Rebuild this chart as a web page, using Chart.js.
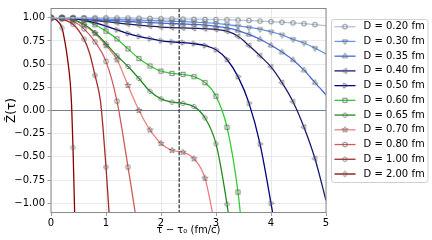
<!DOCTYPE html>
<html>
<head>
<meta charset="utf-8">
<script src="https://cdn.jsdelivr.net/npm/chart.js@4/dist/chart.umd.min.js"></script>
<style>
html,body{margin:0;padding:0;background:#fff;}
canvas{display:block;}
</style>
</head>
<body>
<canvas id="c" width="432" height="240"></canvas>
<script>
// ---- data ----
const tauGrid = [0,0.2,0.4,0.6,0.8,1.0,1.2,1.4,1.6,1.8,2.0,2.2,2.4,2.6,2.8,3.0,3.2,3.4,3.6,3.8,4.0,4.2,4.4,4.6,4.8,5.0];
const zD020 = [1.0,1.0,1.0,1.0,0.999,0.999,0.998,0.997,0.995,0.993,0.99,0.988,0.986,0.984,0.982,0.98,0.978,0.975,0.97,0.964,0.958,0.952,0.945,0.936,0.926,0.915];
const zD030 = [1.0,1.0,0.998,0.995,0.99,0.986,0.982,0.978,0.974,0.97,0.966,0.962,0.958,0.953,0.947,0.94,0.925,0.912,0.895,0.877,0.848,0.815,0.768,0.728,0.672,0.61];
const zD035 = [1.0,1.0,0.997,0.99,0.982,0.974,0.966,0.96,0.954,0.948,0.943,0.938,0.933,0.928,0.92,0.908,0.89,0.862,0.82,0.768,0.703,0.63,0.545,0.435,0.30,0.17];
const zD040 = [1.0,0.999,0.995,0.985,0.972,0.958,0.945,0.932,0.92,0.91,0.90,0.894,0.89,0.886,0.882,0.875,0.855,0.80,0.70,0.59,0.47,0.30,0.095,-0.18,-0.52,-0.97];
const tauD050 = [0,0.2,0.4,0.6,0.8,1.0,1.2,1.4,1.6,1.8,2.0,2.2,2.4,2.6,2.8,3.0,3.2,3.4,3.6,3.8,4.0,4.1];
const zD050 = [1.0,0.998,0.99,0.972,0.945,0.91,0.87,0.83,0.80,0.775,0.752,0.74,0.732,0.72,0.70,0.655,0.55,0.365,0.08,-0.36,-1.0,-1.35];
const tauD060 = [0,0.2,0.4,0.6,0.8,1.0,1.2,1.4,1.6,1.8,2.0,2.2,2.4,2.6,2.8,3.0,3.2,3.4,3.5];
const zD060 = [1.0,0.999,0.993,0.972,0.925,0.856,0.772,0.665,0.56,0.48,0.424,0.40,0.39,0.365,0.30,0.155,-0.18,-0.88,-1.45];
const tauD065 = [0,0.2,0.4,0.6,0.8,1.0,1.2,1.4,1.6,1.8,2.0,2.2,2.4,2.6,2.8,3.0,3.2,3.3];
const zD065 = [1.0,0.998,0.98,0.93,0.84,0.72,0.59,0.475,0.345,0.207,0.126,0.09,0.077,0.042,-0.08,-0.36,-1.01,-1.45];
const tauD070 = [0,0.2,0.4,0.6,0.8,1.0,1.2,1.4,1.6,1.8,2.0,2.2,2.4,2.6,2.8,3.0];
const zD070 = [1.0,0.998,0.98,0.92,0.83,0.70,0.547,0.27,0.0,-0.21,-0.355,-0.43,-0.45,-0.52,-0.73,-1.3];
const tauD080 = [0,0.2,0.4,0.6,0.8,1.0,1.2,1.4,1.53,1.6];
const zD080 = [1.0,0.995,0.965,0.88,0.74,0.53,0.10,-0.61,-1.1,-1.4];
const tauD100 = [0,0.2,0.4,0.6,0.7,0.8,0.9,0.95,1.0,1.05,1.1];
const zD100 = [1.0,0.985,0.93,0.77,0.62,0.38,0.10,-0.22,-0.61,-1.05,-1.55];
const tauD200 = [0,0.1,0.2,0.25,0.3,0.35,0.375,0.4,0.43,0.45];
const zD200 = [1.0,0.975,0.89,0.75,0.56,0.30,0.05,-0.40,-1.1,-1.6];

const seriesLabels = ['D = 0.20 fm','D = 0.30 fm','D = 0.35 fm','D = 0.40 fm','D = 0.50 fm','D = 0.60 fm','D = 0.65 fm','D = 0.70 fm','D = 0.80 fm','D = 1.00 fm','D = 2.00 fm'];
const xTicks = [0,1,2,3,4,5];
const yTicks = [-1.0,-0.75,-0.5,-0.25,0,0.25,0.5,0.75,1.0];
const refTau = 2.33;   // dashed vertical reference
const refZ = 0;        // horizontal reference

// ---- styles ----
const seriesX = [tauGrid,tauGrid,tauGrid,tauGrid,tauD050,tauD060,tauD065,tauD070,tauD080,tauD100,tauD200];
const seriesY = [zD020,zD030,zD035,zD040,zD050,zD060,zD065,zD070,zD080,zD100,zD200];
const colors = ['#B0C4DE','#6495ED','#4169E1','#191970','#000080','#32CD32','#228B22','#F08080','#CD5C5C','#A52A2A','#8B0000'];
const markerKinds = ['circle','tdown','tup','tleft','tright','square','octagon','star','circle','hexagon','diamond'];
const FONT = 'DejaVu Sans';

function makeMarker(kind){
  const s = 11, c = s/2;
  const cv = document.createElement('canvas');
  cv.width = s; cv.height = s;
  const g = cv.getContext('2d');
  g.strokeStyle = '#606060'; g.lineWidth = 0.8; g.lineJoin = 'miter';
  g.beginPath();
  const poly = (n, r, rot) => {
    for (let i=0;i<n;i++){
      const a = rot + i*2*Math.PI/n;
      const px = c + r*Math.cos(a), py = c + r*Math.sin(a);
      if (i===0) g.moveTo(px,py); else g.lineTo(px,py);
    }
    g.closePath();
  };
  switch(kind){
    case 'circle': g.arc(c,c,2.3,0,2*Math.PI); break;
    case 'square': g.rect(c-2.1,c-2.1,4.2,4.2); break;
    case 'diamond': g.moveTo(c,c-2.9); g.lineTo(c+2.3,c); g.lineTo(c,c+2.9); g.lineTo(c-2.3,c); g.closePath(); break;
    case 'tup': poly(3,3.0,-Math.PI/2); break;
    case 'tdown': poly(3,3.0,Math.PI/2); break;
    case 'tleft': poly(3,3.0,Math.PI); break;
    case 'tright': poly(3,3.0,0); break;
    case 'octagon': poly(8,2.2,Math.PI/8); break;
    case 'hexagon': poly(6,2.3,-Math.PI/2); break;
    case 'star': {
      for (let i=0;i<10;i++){
        const r = i%2===0 ? 3.0 : 1.25;
        const a = -Math.PI/2 + i*Math.PI/5;
        const px = c + r*Math.cos(a), py = c + r*Math.sin(a);
        if (i===0) g.moveTo(px,py); else g.lineTo(px,py);
      }
      g.closePath(); break;
    }
  }
  g.stroke();
  return cv;
}
const markerImgs = markerKinds.map(makeMarker);

function onMarkerGrid(x){ const k = x*5; return Math.abs(k-Math.round(k))<1e-9 && x < 4.9; }

const datasets = seriesLabels.map((lab,i) => ({
  label: lab,
  data: seriesX[i].map((x,j) => ({x:x, y:seriesY[i][j]})),
  borderColor: colors[i],
  backgroundColor: colors[i],
  borderWidth: 1.3,
  cubicInterpolationMode: 'monotone',
  pointStyle: markerImgs[i],
  pointRadius: ctx => (ctx.raw && onMarkerGrid(ctx.raw.x)) ? 3 : 0,
  pointHoverRadius: 0,
  fill: false
}));

const refLines = {
  id: 'refLines',
  beforeDatasetsDraw(chart){
    const {ctx, chartArea:a, scales:{y}} = chart;
    ctx.save();
    ctx.beginPath(); ctx.rect(a.left,a.top,a.right-a.left,a.bottom-a.top); ctx.clip();
    const py = y.getPixelForValue(refZ);
    ctx.strokeStyle = '#708090'; ctx.lineWidth = 1.2;
    ctx.beginPath(); ctx.moveTo(a.left,py); ctx.lineTo(a.right,py); ctx.stroke();
    ctx.restore();
  },
  afterDatasetsDraw(chart){
    const {ctx, chartArea:a, scales:{x}} = chart;
    ctx.save();
    const px = x.getPixelForValue(refTau);
    ctx.strokeStyle = '#000'; ctx.lineWidth = 1; ctx.setLineDash([3.7,1.6]);
    ctx.beginPath(); ctx.moveTo(px,a.top); ctx.lineTo(px,a.bottom); ctx.stroke();
    ctx.setLineDash([]);
    ctx.strokeStyle = '#8a8a8a'; ctx.lineWidth = 1;
    ctx.strokeRect(a.left, a.top, a.right-a.left, a.bottom-a.top);
    ctx.restore();
  }
};

const customLegend = {
  id: 'customLegend',
  afterDraw(chart){
    const ctx = chart.ctx;
    const bx = 331.5, by = 19.5, bw = 96.5, bh = 163;
    ctx.save();
    ctx.fillStyle = 'rgba(255,255,255,0.85)';
    ctx.strokeStyle = '#d0d0d0'; ctx.lineWidth = 1;
    ctx.beginPath();
    if (ctx.roundRect) ctx.roundRect(bx,by,bw,bh,2.5); else ctx.rect(bx,by,bw,bh);
    ctx.fill(); ctx.stroke();
    ctx.font = '10px "' + FONT + '"';
    ctx.textBaseline = 'middle'; ctx.textAlign = 'left'; ctx.fillStyle = '#000';
    chart.data.datasets.forEach((ds,i) => {
      const yy = 26.7 + i*14.73;
      ctx.strokeStyle = ds.borderColor; ctx.lineWidth = 1.3;
      ctx.beginPath(); ctx.moveTo(334.5,yy); ctx.lineTo(355.5,yy); ctx.stroke();
      const img = markerImgs[i];
      ctx.drawImage(img, 345 - img.width/2, yy - img.height/2);
      ctx.fillText(ds.label, 363.5, yy);
    });
    ctx.restore();
  }
};

const fnt = {family: FONT, size: 10};
new Chart(document.getElementById('c'), {
  type: 'line',
  data: {datasets},
  options: {
    responsive: false,
    animation: false,
    events: [],
    layout: {padding: {left: 0, right: 106, top: 3.5, bottom: 0}},
    scales: {
      x: {
        type: 'linear', min: 0, max: 5,
        afterBuildTicks: s => { s.ticks = xTicks.map(v => ({value: v})); },
        ticks: {font: fnt, color: '#000', padding: 1, maxRotation: 0, callback: v => String(v)},
        grid: {color: '#e3e3e3', lineWidth: 0.8, tickColor: '#888', tickLength: 3.5},
        border: {display: false},
        title: {display: true, text: 'τ − τ₀ (fm/c)', font: fnt, color: '#000', padding: {top: 0, bottom: 4}},
        afterFit: s => { s.height = 27.5; }
      },
      y: {
        type: 'linear', min: -1.1, max: 1.1,
        afterBuildTicks: s => { s.ticks = yTicks.map(v => ({value: v})); },
        ticks: {font: fnt, color: '#000', padding: 2.5, callback: v => (v < 0 ? '−' : '') + Math.abs(v).toFixed(2)},
        grid: {color: '#e3e3e3', lineWidth: 0.8, tickColor: '#888', tickLength: 3.5},
        border: {display: false},
        title: {display: true, text: 'Z̃(τ)', font: {family: FONT, size: 12}, color: '#000', padding: {top: 4.5, bottom: 0}},
        afterFit: s => { s.width = 51; }
      }
    },
    plugins: {legend: {display: false}, tooltip: {enabled: false}}
  },
  plugins: [refLines, customLegend]
});
</script>
</body>
</html>
